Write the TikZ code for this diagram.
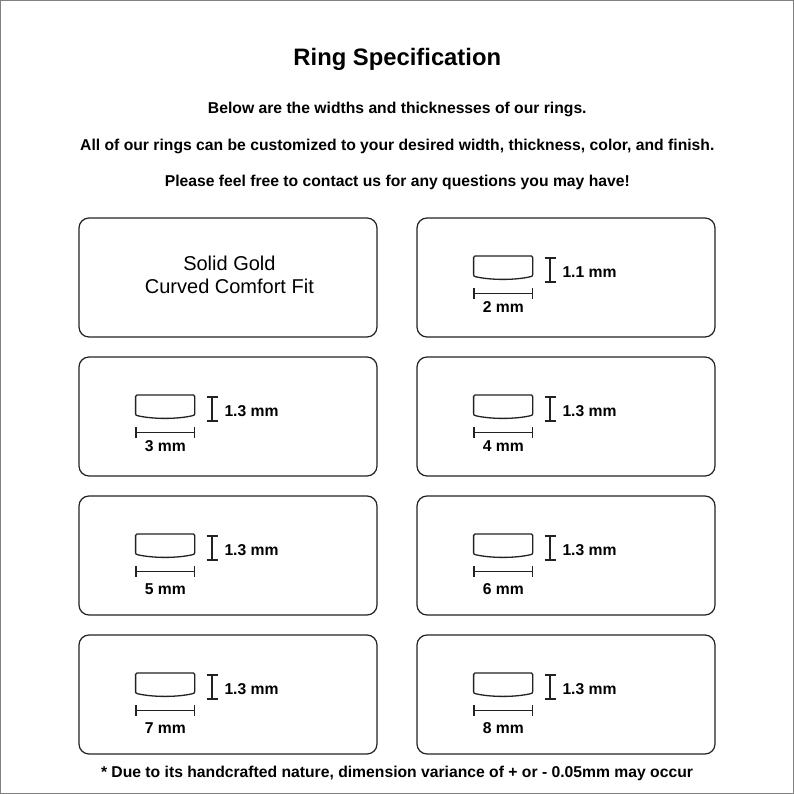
\documentclass[tikz,border=0pt]{standalone}
\usepackage{fontspec}
\setmainfont{Liberation Sans}
\definecolor{ink}{HTML}{222222}
\tikzset{
  x=1pt,y=-1pt,
  card/.style={draw=ink,line width=1.2pt,rounded corners=10pt},
  ringline/.style={draw=ink,line width=1.3pt},
  dimline/.style={draw=ink,line width=1.5pt},
  lab/.style={font=\bfseries\fontsize{15.7}{18}\selectfont,text=black,inner sep=0pt},
  headline/.style={font=\bfseries\fontsize{15.7}{18}\selectfont,text=black,inner sep=0pt},
  small/.style={font=\fontsize{20}{23}\selectfont,text=black,inner sep=0pt,align=center},
}
\newcommand{\ringspec}[5]{%
  \begin{scope}[shift={(#1,#2)}]
    \draw[card] (0,0) rectangle (298,119);
    \draw[ringline] (58,38) -- (114.5,38) .. controls (115.3,38) and (115.7,38.5) .. (115.7,39.5)
       -- (115.7,56.5) .. controls (115.7,58) and (115,58.3) .. (113.5,58.7)
       .. controls (98,62.3) and (74,62.3) .. (58.5,58.7)
       .. controls (57,58.3) and (56.6,58) .. (56.6,56.5)
       -- (56.6,39.5) .. controls (56.6,38.5) and (57,38) .. (58,38) -- cycle;
    \draw[dimline] (127.5,40) -- (138.5,40) (133,40) -- (133,64) (127.5,64) -- (138.5,64);
    \draw[dimline] (56.8,70) -- (56.8,81) (56.8,75.5) -- (115.7,75.5) (115.7,70) -- (115.7,81);
    \node[lab,anchor=west] at (145.3,54) {#3};
    \node[lab] at (86.3,#5) {#4};
  \end{scope}}
\begin{document}
\begin{tikzpicture}
\useasboundingbox (0,0) rectangle (794,794);
\fill[white] (0,0) rectangle (794,794);
\draw[gray,line width=1.4pt] (0.5,0.5) rectangle (793.5,793.5);
\node[font=\bfseries\fontsize{23.8}{28}\selectfont,inner sep=0pt] (title) at (397.3,59.5) {Ring Specification};
\node[headline] (l1) at (397.3,109.5) {Below are the widths and thicknesses of our rings.};
\node[headline] (l2) at (397.3,146) {All of our rings can be customized to your desired width, thickness, color, and finish.};
\node[headline] (l3) at (397.3,182.5) {Please feel free to contact us for any questions you may have!};
\draw[card] (79,218) rectangle (377,337);
\node[small] (kind) at (229.4,275.3) {Solid Gold\\Curved Comfort Fit};
\ringspec{417}{218}{1.1 mm}{2 mm}{89.5}
\ringspec{79}{357}{1.3 mm}{3 mm}{89.5}
\ringspec{417}{357}{1.3 mm}{4 mm}{89.5}
\ringspec{79}{496}{1.3 mm}{5 mm}{93.5}
\ringspec{417}{496}{1.3 mm}{6 mm}{93.5}
\ringspec{79}{635}{1.3 mm}{7 mm}{93.5}
\ringspec{417}{635}{1.3 mm}{8 mm}{93.5}
\node[headline] (note) at (397,773) {* Due to its handcrafted nature, dimension variance of + or - 0.05mm may occur};
\end{tikzpicture}
\end{document}
